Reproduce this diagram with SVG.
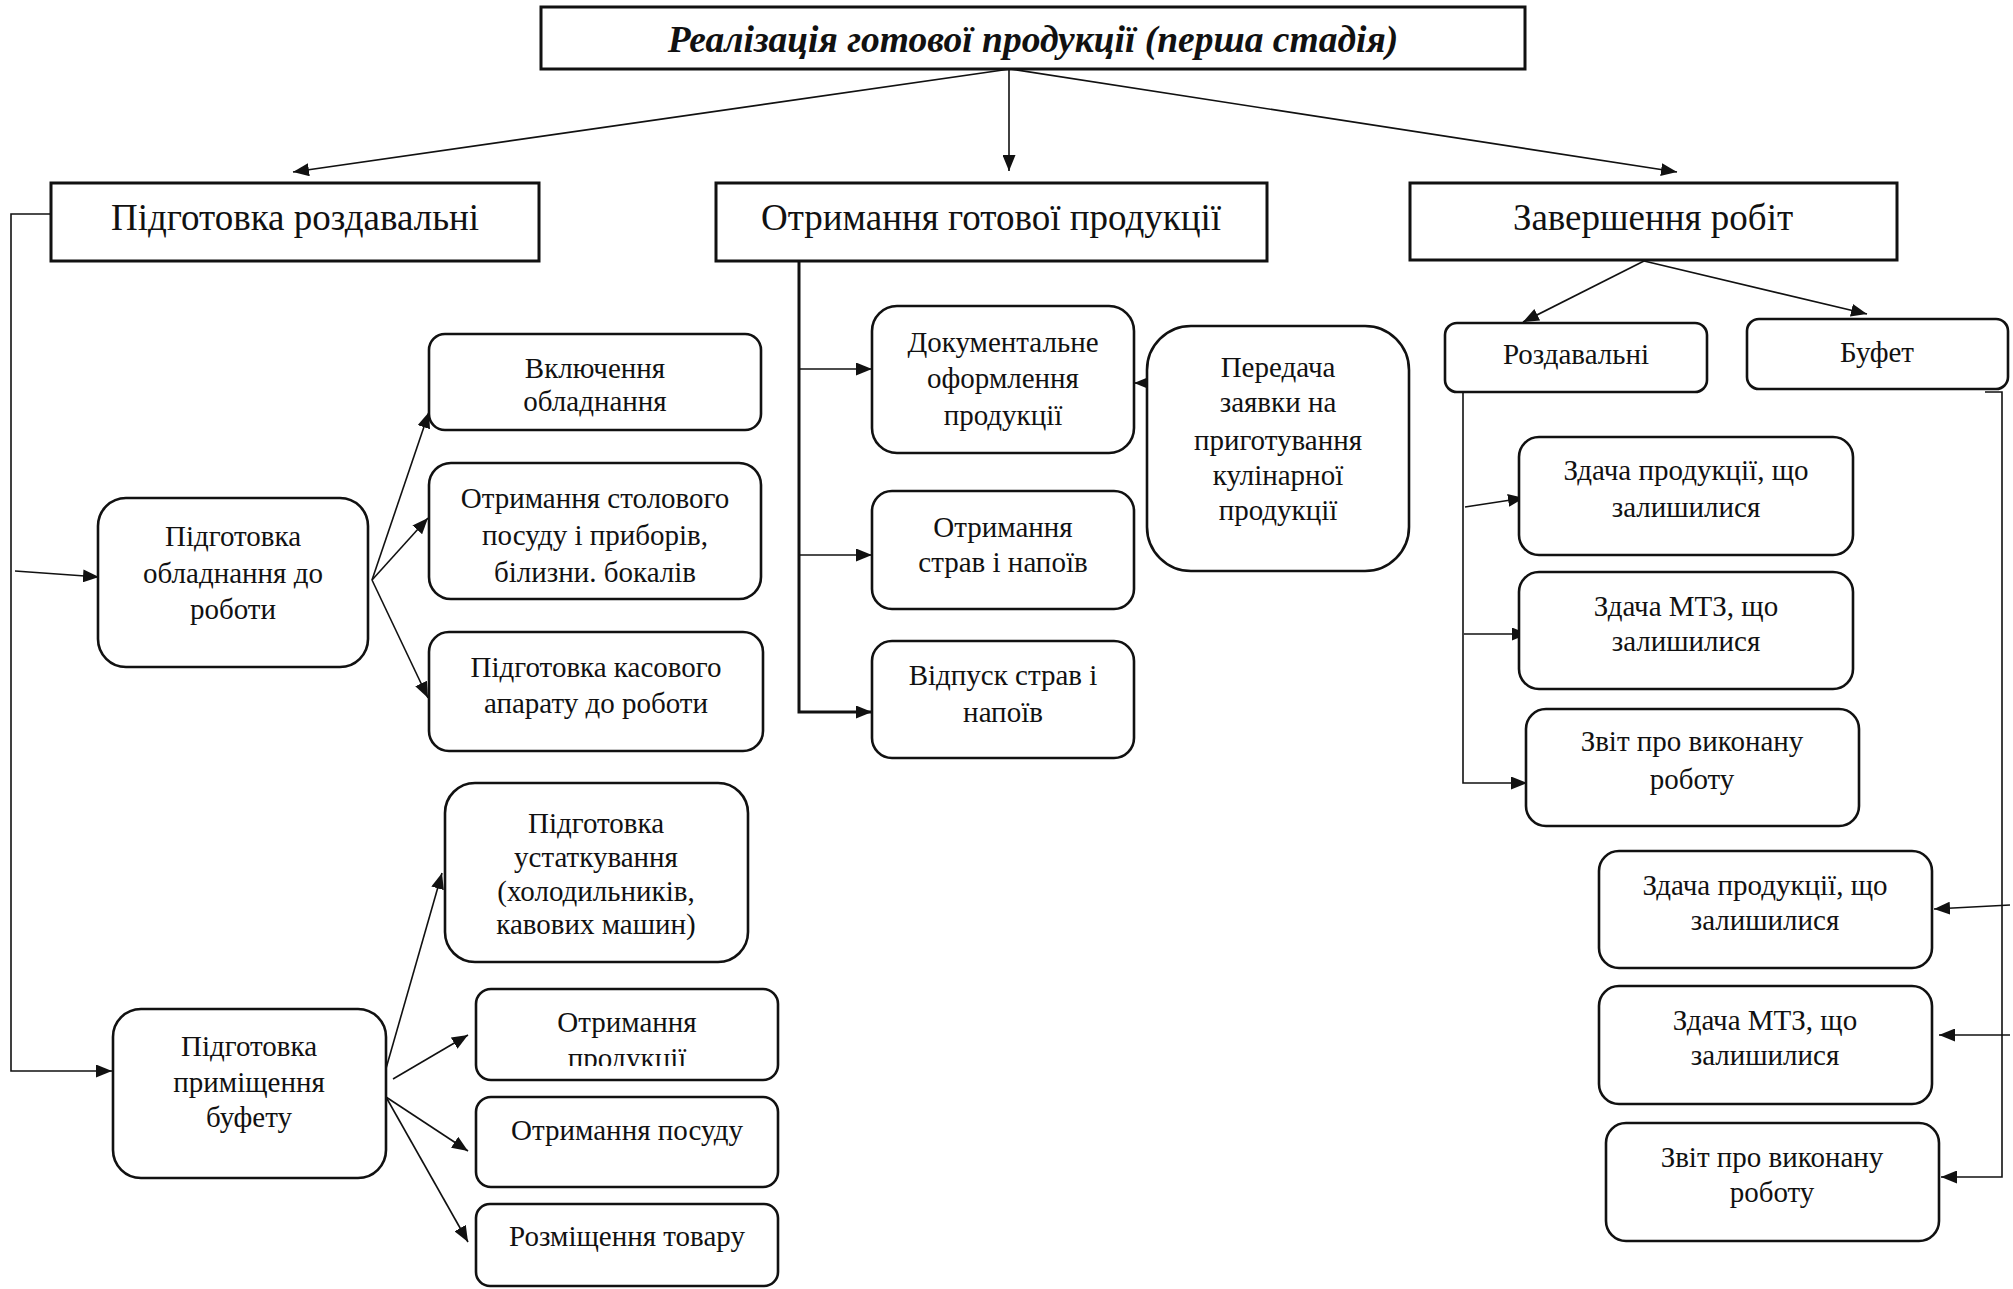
<svg xmlns="http://www.w3.org/2000/svg" width="2013" height="1289" viewBox="0 0 2013 1289">
<defs>
<style>
text{font-family:"Liberation Serif","Times New Roman",serif;fill:#111;text-anchor:middle}
.t{font-size:29px}
.h{font-size:37px}
.title{font-size:37.5px;font-weight:bold;font-style:italic}
.box{fill:#fff;stroke:#111;stroke-width:3}
.rbox{fill:#fff;stroke:#111;stroke-width:2.6}
.c{fill:none;stroke:#111;stroke-width:1.6}
.ck{fill:none;stroke:#111;stroke-width:3}
</style>
<marker id="ah" markerUnits="userSpaceOnUse" markerWidth="16" markerHeight="13" refX="16" refY="6.5" orient="auto">
<path d="M0,0 L16,6.5 L0,13 z" fill="#111"/>
</marker>
<clipPath id="clipProd"><rect x="476" y="989" width="302" height="77"/></clipPath>
</defs>

<g id="connectors">
<line class="c" x1="1010" y1="69" x2="293" y2="172" marker-end="url(#ah)"/>
<line class="c" x1="1009" y1="69" x2="1009" y2="171" marker-end="url(#ah)"/>
<line class="c" x1="1010" y1="69" x2="1677" y2="172" marker-end="url(#ah)"/>
<polyline class="c" points="51,214 11,214 11,1071 112,1071" marker-end="url(#ah)"/>
<line class="c" x1="15" y1="571" x2="99" y2="577" marker-end="url(#ah)"/>
<line class="c" x1="372" y1="580" x2="429" y2="412" marker-end="url(#ah)"/>
<line class="c" x1="372" y1="580" x2="428" y2="518" marker-end="url(#ah)"/>
<line class="c" x1="372" y1="580" x2="428" y2="698" marker-end="url(#ah)"/>
<line class="c" x1="383" y1="1079" x2="442" y2="873" marker-end="url(#ah)"/>
<line class="c" x1="393" y1="1079" x2="468" y2="1035" marker-end="url(#ah)"/>
<line class="c" x1="386" y1="1097" x2="468" y2="1151" marker-end="url(#ah)"/>
<line class="c" x1="386" y1="1097" x2="468" y2="1242" marker-end="url(#ah)"/>
<polyline class="ck" points="799,261 799,712 872,712" marker-end="url(#ah)"/>
<line class="c" x1="799" y1="369" x2="872" y2="369" marker-end="url(#ah)"/>
<line class="c" x1="799" y1="555" x2="872" y2="555" marker-end="url(#ah)"/>
<line class="c" x1="1152" y1="383" x2="1134" y2="383" marker-end="url(#ah)"/>
<line class="c" x1="1644" y1="261" x2="1523" y2="322" marker-end="url(#ah)"/>
<line class="c" x1="1644" y1="261" x2="1867" y2="314" marker-end="url(#ah)"/>
<polyline class="c" points="1463,392 1463,783 1527,783" marker-end="url(#ah)"/>
<line class="c" x1="1465" y1="507" x2="1524" y2="498" marker-end="url(#ah)"/>
<line class="c" x1="1464" y1="634" x2="1528" y2="634" marker-end="url(#ah)"/>
<polyline class="c" points="1985,392 2002,392 2002,1177 1941,1177" marker-end="url(#ah)"/>
<line class="c" x1="2010" y1="905" x2="1934" y2="909" marker-end="url(#ah)"/>
<line class="c" x1="2010" y1="1035" x2="1939" y2="1035" marker-end="url(#ah)"/>
</g>

<g id="n-title">
<rect class="box" x="541" y="7" width="984" height="62"/>
<text class="title" x="1033" y="52">Реалізація готової продукції (перша стадія)</text>
</g>

<g id="n-pidg-rozd">
<rect class="box" x="51" y="183" width="488" height="78"/>
<text class="h" x="295" y="230">Підготовка роздавальні</text>
</g>

<g id="n-otrym-got">
<rect class="box" x="716" y="183" width="551" height="78"/>
<text class="h" x="991" y="230">Отримання готової продукції</text>
</g>

<g id="n-zaversh">
<rect class="box" x="1410" y="183" width="487" height="77"/>
<text class="h" x="1653" y="230">Завершення робіт</text>
</g>

<g id="n-pidg-obl">
<rect class="rbox" x="98" y="498" width="270" height="169" rx="28"/>
<text class="t" x="233"><tspan x="233" y="546">Підготовка</tspan><tspan x="233" y="583">обладнання до</tspan><tspan x="233" y="619">роботи</tspan></text>
</g>

<g id="n-vkl">
<rect class="rbox" x="429" y="334" width="332" height="96" rx="16"/>
<text class="t" x="595"><tspan x="595" y="378">Включення</tspan><tspan x="595" y="411">обладнання</tspan></text>
</g>

<g id="n-stol">
<rect class="rbox" x="429" y="463" width="332" height="136" rx="22"/>
<text class="t" x="595"><tspan x="595" y="508">Отримання столового</tspan><tspan x="595" y="545">посуду і приборів,</tspan><tspan x="595" y="582">білизни. бокалів</tspan></text>
</g>

<g id="n-kas">
<rect class="rbox" x="429" y="632" width="334" height="119" rx="20"/>
<text class="t" x="596"><tspan x="596" y="677">Підготовка касового</tspan><tspan x="596" y="713">апарату до роботи</tspan></text>
</g>

<g id="n-pidg-prym">
<rect class="rbox" x="113" y="1009" width="273" height="169" rx="28"/>
<text class="t" x="249"><tspan x="249" y="1056">Підготовка</tspan><tspan x="249" y="1092">приміщення</tspan><tspan x="249" y="1127">буфету</tspan></text>
</g>

<g id="n-ustat">
<rect class="rbox" x="445" y="783" width="303" height="179" rx="30"/>
<text class="t" x="596"><tspan x="596" y="833">Підготовка</tspan><tspan x="596" y="867">устаткування</tspan><tspan x="596" y="901">(холодильників,</tspan><tspan x="596" y="934">кавових машин)</tspan></text>
</g>

<g id="n-otr-prod">
<rect class="rbox" x="476" y="989" width="302" height="91" rx="15"/>
<text class="t" x="627" clip-path="url(#clipProd)"><tspan x="627" y="1032">Отримання</tspan><tspan x="627" y="1068">продукції</tspan></text>
</g>

<g id="n-otr-pos">
<rect class="rbox" x="476" y="1097" width="302" height="90" rx="15"/>
<text class="t" x="627" y="1140">Отримання посуду</text>
</g>

<g id="n-rozm">
<rect class="rbox" x="476" y="1204" width="302" height="82" rx="14"/>
<text class="t" x="627" y="1246">Розміщення товару</text>
</g>

<g id="n-dok">
<rect class="rbox" x="872" y="306" width="262" height="147" rx="25"/>
<text class="t" x="1003"><tspan x="1003" y="352">Документальне</tspan><tspan x="1003" y="388">оформлення</tspan><tspan x="1003" y="425">продукції</tspan></text>
</g>

<g id="n-otr-strav">
<rect class="rbox" x="872" y="491" width="262" height="118" rx="20"/>
<text class="t" x="1003"><tspan x="1003" y="537">Отримання</tspan><tspan x="1003" y="572">страв і напоїв</tspan></text>
</g>

<g id="n-vidp">
<rect class="rbox" x="872" y="641" width="262" height="117" rx="20"/>
<text class="t" x="1003"><tspan x="1003" y="685">Відпуск страв і</tspan><tspan x="1003" y="722">напоїв</tspan></text>
</g>

<g id="n-pered">
<rect class="rbox" x="1147" y="326" width="262" height="245" rx="44"/>
<text class="t" x="1278"><tspan x="1278" y="377">Передача</tspan><tspan x="1278" y="412">заявки на</tspan><tspan x="1278" y="450">приготування</tspan><tspan x="1278" y="485">кулінарної</tspan><tspan x="1278" y="520">продукції</tspan></text>
</g>

<g id="n-rozdav">
<rect class="rbox" x="1445" y="323" width="262" height="69" rx="12"/>
<text class="t" x="1576" y="364">Роздавальні</text>
</g>

<g id="n-bufet">
<rect class="rbox" x="1747" y="319" width="261" height="70" rx="12"/>
<text class="t" x="1877" y="362">Буфет</text>
</g>

<g id="n-r-zprod">
<rect class="rbox" x="1519" y="437" width="334" height="118" rx="20"/>
<text class="t" x="1686"><tspan x="1686" y="480">Здача продукції, що</tspan><tspan x="1686" y="517">залишилися</tspan></text>
</g>

<g id="n-r-zmtz">
<rect class="rbox" x="1519" y="572" width="334" height="117" rx="20"/>
<text class="t" x="1686"><tspan x="1686" y="616">Здача МТЗ, що</tspan><tspan x="1686" y="651">залишилися</tspan></text>
</g>

<g id="n-r-zvit">
<rect class="rbox" x="1526" y="709" width="333" height="117" rx="20"/>
<text class="t" x="1692"><tspan x="1692" y="751">Звіт про виконану</tspan><tspan x="1692" y="789">роботу</tspan></text>
</g>

<g id="n-b-zprod">
<rect class="rbox" x="1599" y="851" width="333" height="117" rx="20"/>
<text class="t" x="1765"><tspan x="1765" y="895">Здача продукції, що</tspan><tspan x="1765" y="930">залишилися</tspan></text>
</g>

<g id="n-b-zmtz">
<rect class="rbox" x="1599" y="986" width="333" height="118" rx="20"/>
<text class="t" x="1765"><tspan x="1765" y="1030">Здача МТЗ, що</tspan><tspan x="1765" y="1065">залишилися</tspan></text>
</g>

<g id="n-b-zvit">
<rect class="rbox" x="1606" y="1123" width="333" height="118" rx="20"/>
<text class="t" x="1772"><tspan x="1772" y="1167">Звіт про виконану</tspan><tspan x="1772" y="1202">роботу</tspan></text>
</g>
</svg>
